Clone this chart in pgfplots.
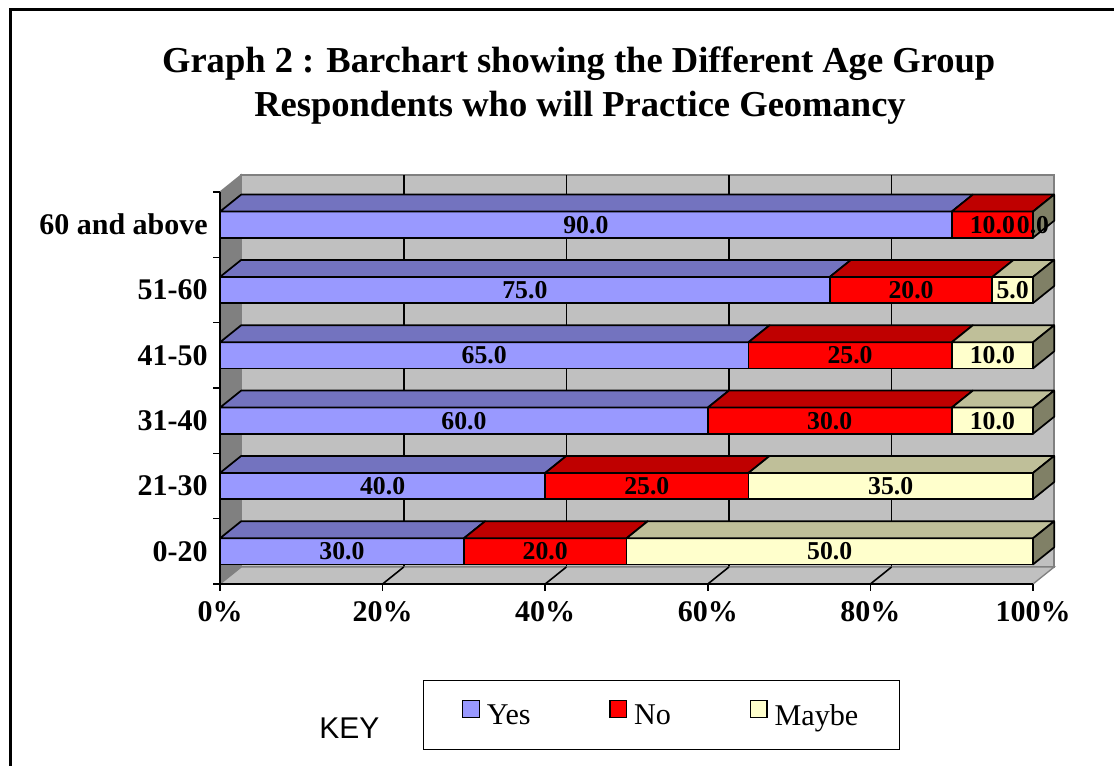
\documentclass[border=0pt]{standalone}
\usepackage{pgfplots}
\pgfplotsset{compat=1.18}
\usepackage{pgfplotstable}
\usepackage{fontspec}
\setmainfont{Liberation Serif}
\newfontfamily\arialfont{Liberation Sans}

\definecolor{yesF}{HTML}{9999FF}
\definecolor{yesT}{HTML}{7373BF}
\definecolor{noF}{HTML}{FF0000}
\definecolor{noT}{HTML}{BF0000}
\definecolor{mayF}{HTML}{FFFFCC}
\definecolor{mayT}{HTML}{BFBF99}
\definecolor{mayS}{HTML}{808066}
\definecolor{wallC}{HTML}{C0C0C0}
\definecolor{sideC}{HTML}{808080}

% row: 0 = 0-20 ... 5 = 60 and above ; percentages
\pgfplotstableread{
row yes no maybe
0 30 20 50
1 40 25 35
2 60 30 10
3 65 25 10
4 75 20 5
5 90 10 0
}\agedata

\def\DX{2.6}
\def\DY{0.26}
\def\BH{0.2}
\newcommand\barfont{\fontsize{19.3}{21}\selectfont\bfseries}
\pgfkeys{/pgf/number format/.cd, assume math mode=true}

\newcommand\threedbar[1]{%
 \pgfplotstablegetelem{#1}{yes}\of\agedata \edef\va{\pgfplotsretval}%
 \pgfplotstablegetelem{#1}{no}\of\agedata \edef\vb{\pgfplotsretval}%
 \pgfplotstablegetelem{#1}{maybe}\of\agedata \edef\vc{\pgfplotsretval}%
 \pgfmathsetmacro\xa{\va}%
 \pgfmathsetmacro\xb{\va+\vb}%
 \pgfmathsetmacro\xc{\va+\vb+\vc}%
 \pgfmathsetmacro\xod{\DX}%
 \pgfmathsetmacro\xad{\xa+\DX}%
 \pgfmathsetmacro\xbd{\xb+\DX}%
 \pgfmathsetmacro\xcd{\xc+\DX}%
 \pgfmathsetmacro\yl{#1-\BH}%
 \pgfmathsetmacro\yh{#1+\BH}%
 \pgfmathsetmacro\yld{#1-\BH+\DY}%
 \pgfmathsetmacro\yhd{#1+\BH+\DY}%
 \pgfmathsetmacro\ma{\xa/2}%
 \pgfmathsetmacro\mb{(\xa+\xb)/2}%
 \pgfmathsetmacro\mc{(\xb+\xc)/2}%
 \edef\tmp{%
  \noexpand\addplot[forget plot, fill=yesF, bedge] coordinates {(0,\yl) (\xa,\yl) (\xa,\yh) (0,\yh)} -- cycle;
  \noexpand\addplot[forget plot, fill=noF, bedge] coordinates {(\xa,\yl) (\xb,\yl) (\xb,\yh) (\xa,\yh)} -- cycle;
  \noexpand\addplot[forget plot, fill=mayF, bedge] coordinates {(\xb,\yl) (\xc,\yl) (\xc,\yh) (\xb,\yh)} -- cycle;
  \noexpand\addplot[forget plot, fill=yesT, bedge] coordinates {(0,\yh) (\xa,\yh) (\xad,\yhd) (\xod,\yhd)} -- cycle;
  \noexpand\addplot[forget plot, fill=noT, bedge] coordinates {(\xa,\yh) (\xb,\yh) (\xbd,\yhd) (\xad,\yhd)} -- cycle;
  \noexpand\addplot[forget plot, fill=mayT, bedge] coordinates {(\xb,\yh) (\xc,\yh) (\xcd,\yhd) (\xbd,\yhd)} -- cycle;
  \noexpand\addplot[forget plot, fill=mayS, bedge] coordinates {(\xc,\yl) (\xcd,\yld) (\xcd,\yhd) (\xc,\yh)} -- cycle;
  \noexpand\node[font=\noexpand\barfont] at (axis cs:\ma,#1) {\noexpand\pgfmathprintnumber[fixed,fixed zerofill,precision=1,assume math mode=true]{\va}};
  \noexpand\node[font=\noexpand\barfont] at (axis cs:\mb,#1) {\noexpand\pgfmathprintnumber[fixed,fixed zerofill,precision=1,assume math mode=true]{\vb}};
  \noexpand\node[font=\noexpand\barfont] at (axis cs:\mc,#1) {\noexpand\pgfmathprintnumber[fixed,fixed zerofill,precision=1,assume math mode=true]{\vc}};
 }\tmp
}

\begin{document}
\begin{tikzpicture}
\useasboundingbox (0,0) rectangle (835.5pt,573.75pt);
\fill[white] (0,0) rectangle (835.5pt,573.75pt);
\draw[line width=2.25pt] (7.5pt,-3pt) -- (7.5pt,566.25pt) -- (840pt,566.25pt);

\node[font=\fontsize{27.4}{30}\selectfont\bfseries, anchor=base] at (434pt,519pt) {Graph 2 : Barchart showing the Different Age Group};
\node[font=\fontsize{27.4}{30}\selectfont\bfseries, anchor=base] at (435pt,486pt) {Respondents who will Practice Geomancy};
\node[font=\arialfont\fontsize{22.5}{24}\selectfont, anchor=base] at (262pt,20.25pt) {KEY};

\begin{axis}[
  at={(165pt,135.75pt)}, anchor=south west,
  x=6.0975pt, y=49pt,
  xmin=0, xmax=100, ymin=-0.5, ymax=5.5,
  clip=false, axis on top,
  axis x line*=bottom, axis y line*=left,
  axis line style={line width=1.2pt, -},
  xtick={0,20,40,60,80,100},
  xticklabels={0\%,20\%,40\%,60\%,80\%,100\%},
  ytick={0,1,2,3,4,5},
  yticklabels={0-20,21-30,31-40,41-50,51-60,60 and above},
  minor ytick={-0.5,0.5,1.5,2.5,3.5,4.5,5.5},
  major y tick style={draw=none},
  tick align=outside,
  tick style={black, line width=1.2pt},
  major tick length=5pt, minor tick length=5pt,
  ticklabel style={font=\fontsize{22.5}{24}\selectfont\bfseries},
  xticklabel style={inner sep=0pt, anchor=north, yshift=-8pt},
  yticklabel style={inner sep=0pt, anchor=east, xshift=-4pt},
  bedge/.style={draw=black, line width=1.3pt, line join=round},
  legend columns=3,
  legend style={at={(0.543,-0.334)}, anchor=center, draw=black, line width=1.2pt,
    font=\fontsize{22.6}{24}\selectfont, inner xsep=29pt, inner ysep=14.5pt,
    /tikz/every even column/.append style={column sep=57pt}},
  legend image code/.code={\draw[#1, draw=black, line width=1.1pt] (0pt,-1pt) rectangle (12.5pt,11.5pt); \path (15.5pt,0pt);},
]
% back wall
\addplot[forget plot, fill=wallC, draw=sideC, line width=1pt] coordinates {(2.6,-0.24) (102.6,-0.24) (102.6,5.76) (2.6,5.76)} -- cycle;
\addplot[forget plot, black, line width=1.2pt] coordinates {(22.6,-0.24) (22.6,5.76)};
\addplot[forget plot, black, line width=1.2pt] coordinates {(42.6,-0.24) (42.6,5.76)};
\addplot[forget plot, black, line width=1.2pt] coordinates {(62.6,-0.24) (62.6,5.76)};
\addplot[forget plot, black, line width=1.2pt] coordinates {(82.6,-0.24) (82.6,5.76)};
% side wall
\addplot[forget plot, fill=sideC, draw=sideC, line width=1pt] coordinates {(0,-0.5) (2.6,-0.24) (2.6,5.76) (0,5.5)} -- cycle;
% floor
\addplot[forget plot, fill=wallC, draw=sideC, line width=1pt] coordinates {(0,-0.5) (100,-0.5) (102.6,-0.24) (2.6,-0.24)} -- cycle;
\addplot[forget plot, black, line width=1.2pt] coordinates {(20,-0.5) (22.6,-0.24)};
\addplot[forget plot, black, line width=1.2pt] coordinates {(40,-0.5) (42.6,-0.24)};
\addplot[forget plot, black, line width=1.2pt] coordinates {(60,-0.5) (62.6,-0.24)};
\addplot[forget plot, black, line width=1.2pt] coordinates {(80,-0.5) (82.6,-0.24)};
% bars
\threedbar{0}
\threedbar{1}
\threedbar{2}
\threedbar{3}
\threedbar{4}
\threedbar{5}
% legend
\addlegendimage{fill=yesF}\addlegendentry{Yes}
\addlegendimage{fill=noF}\addlegendentry{No}
\addlegendimage{fill=mayF}\addlegendentry{Maybe}
\end{axis}
\end{tikzpicture}
\end{document}
